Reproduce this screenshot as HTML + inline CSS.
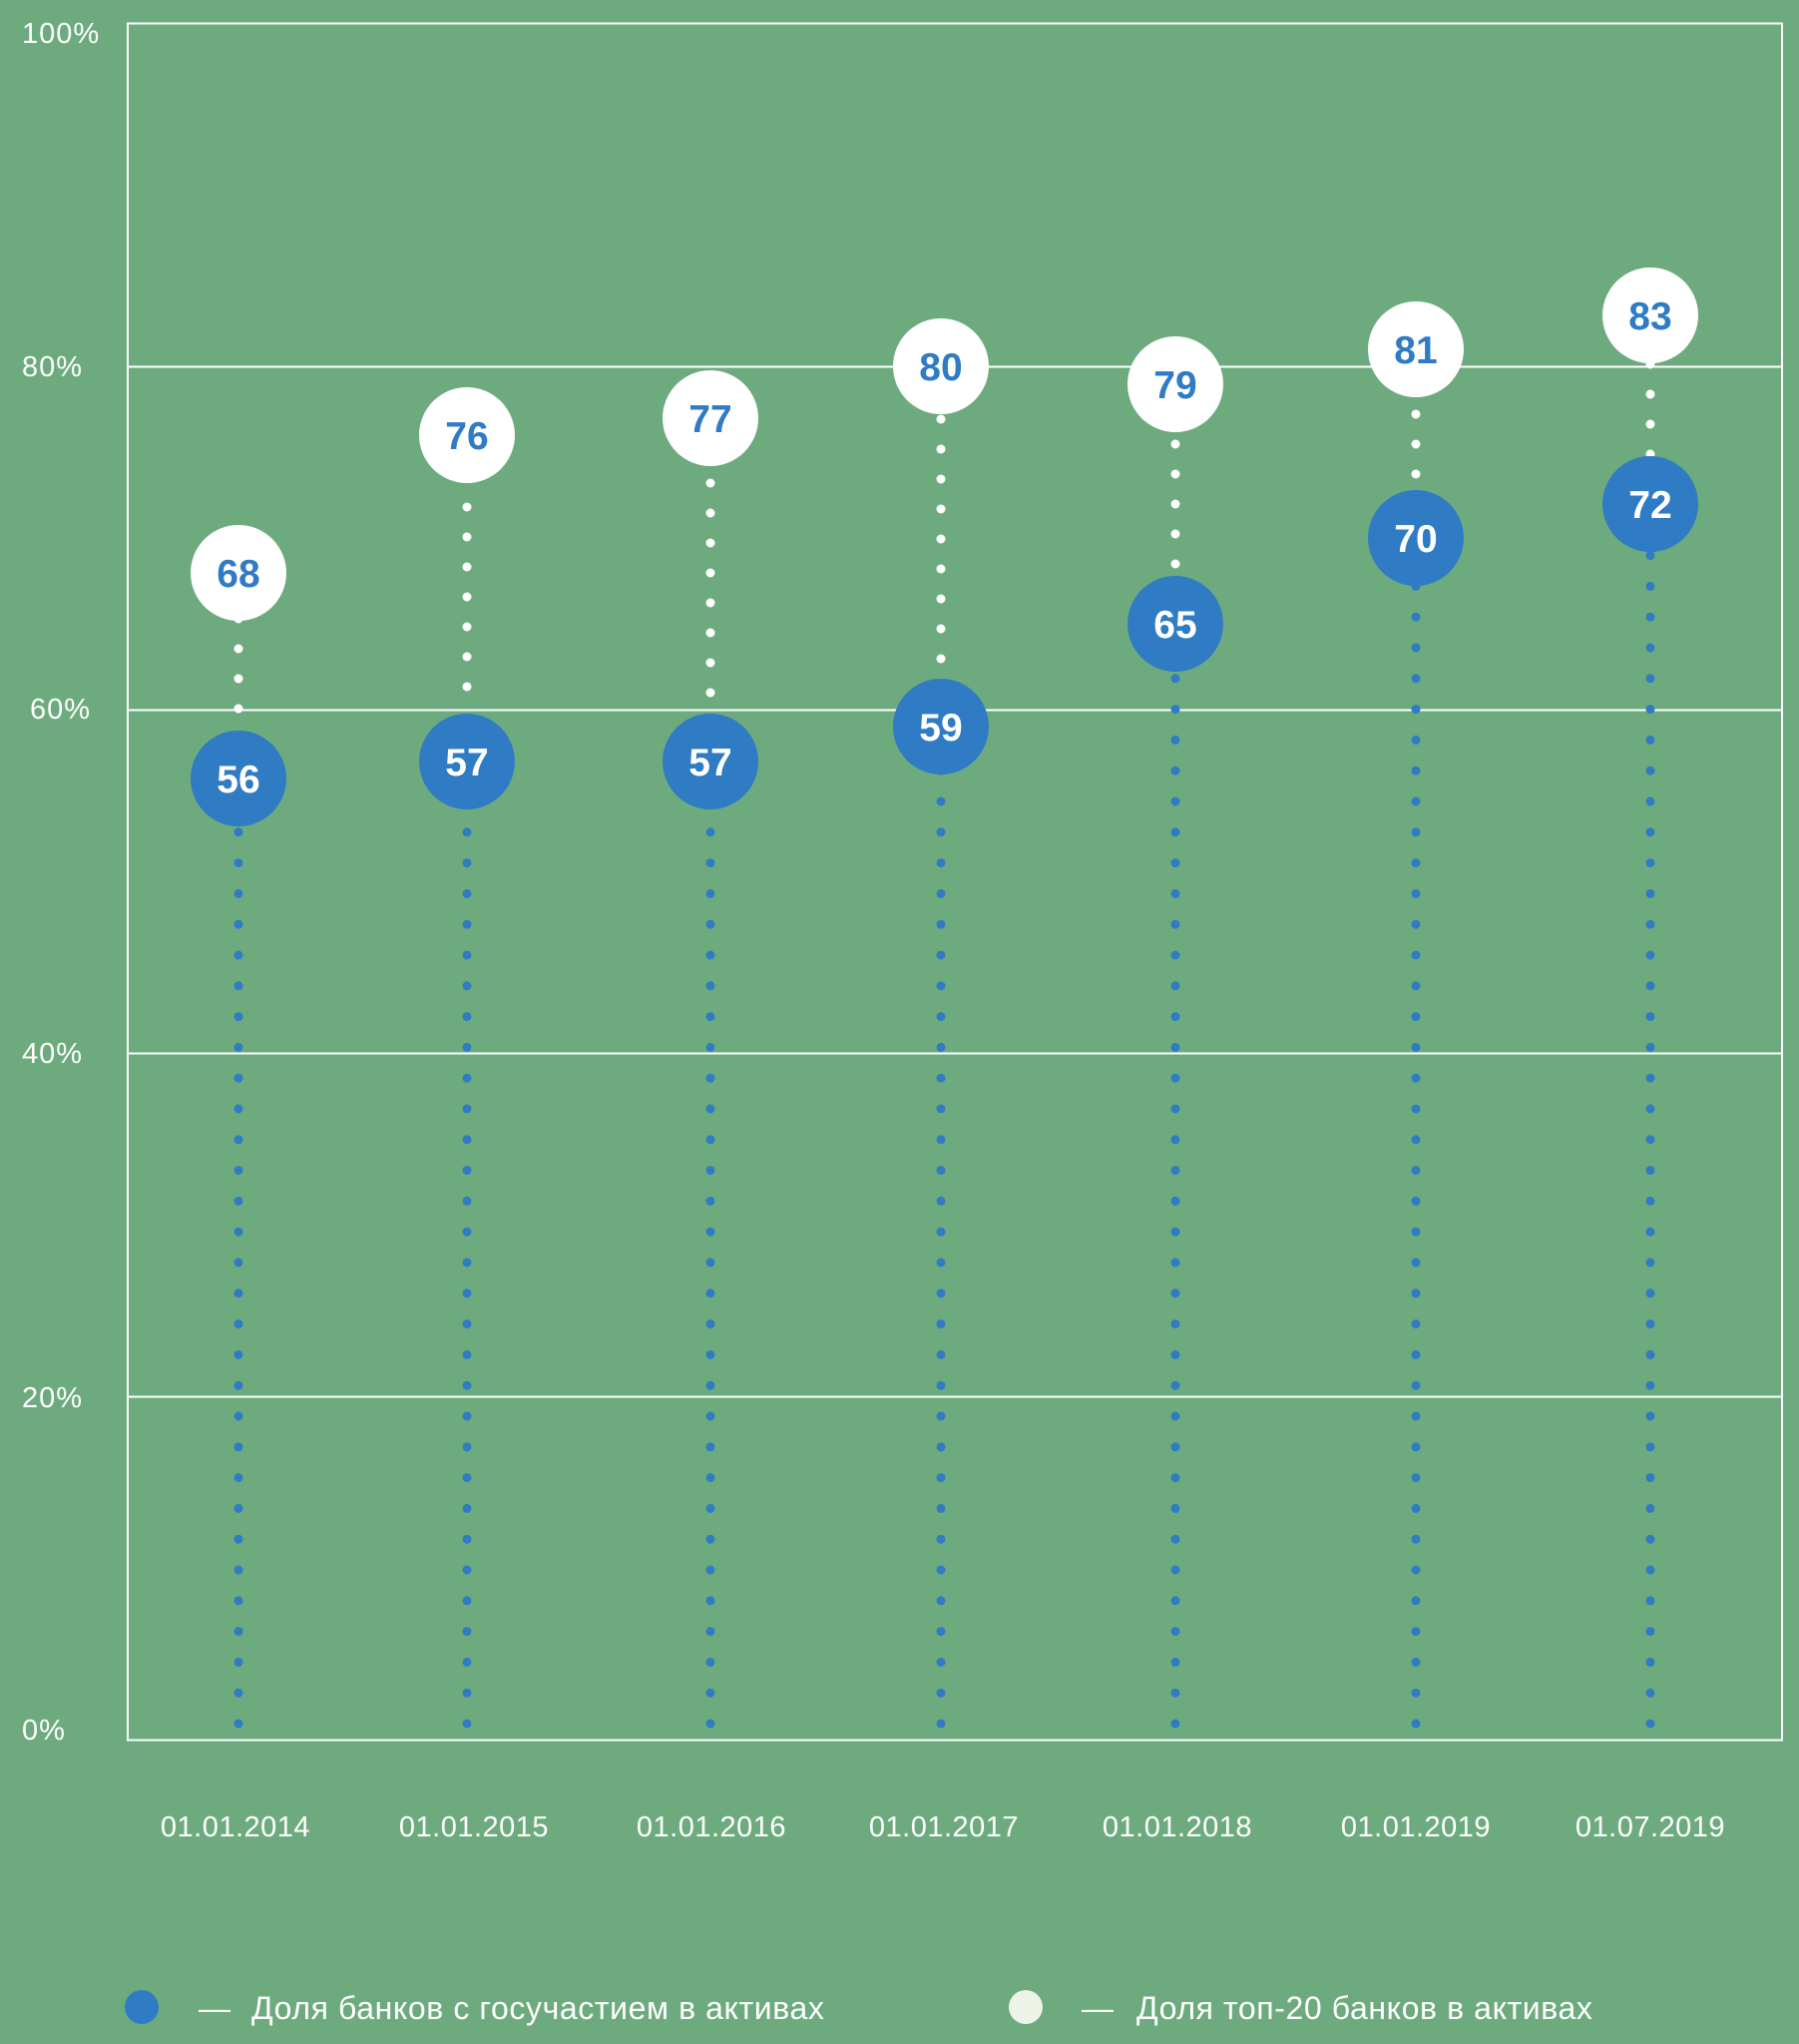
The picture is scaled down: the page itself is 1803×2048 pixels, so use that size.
<!DOCTYPE html>
<html><head><meta charset="utf-8"><style>
html,body{margin:0;padding:0;background:#6dab7f;}
svg{display:block}
text{font-family:"Liberation Sans","DejaVu Sans",sans-serif;}
</style></head><body>
<svg width="1803" height="2048" viewBox="0 0 1803 2048" xmlns="http://www.w3.org/2000/svg">
<rect width="1803" height="2048" fill="#6dab7f"/>
<g stroke="#ffffff" stroke-width="2" fill="none">
<rect x="128" y="23.5" width="1658" height="1720"/>
<line x1="128" y1="367.5" x2="1786" y2="367.5"/>
<line x1="128" y1="711.5" x2="1786" y2="711.5"/>
<line x1="128" y1="1055.5" x2="1786" y2="1055.5"/>
<line x1="128" y1="1399.5" x2="1786" y2="1399.5"/>
</g>
<g fill="#ffffff" font-size="29" letter-spacing="1">
<text x="22" y="43">100%</text>
<text x="22" y="377">80%</text>
<text x="30" y="720">60%</text>
<text x="22" y="1065">40%</text>
<text x="22" y="1410">20%</text>
<text x="22" y="1743">0%</text>
</g>
<g fill="#ffffff" font-size="29" text-anchor="middle" letter-spacing="0.5">
<text x="236" y="1840">01.01.2014</text>
<text x="475" y="1840">01.01.2015</text>
<text x="713" y="1840">01.01.2016</text>
<text x="946" y="1840">01.01.2017</text>
<text x="1180" y="1840">01.01.2018</text>
<text x="1419" y="1840">01.01.2019</text>
<text x="1654" y="1840">01.07.2019</text>
</g>
<g stroke="#2f7bc4" stroke-width="9" stroke-linecap="round" stroke-dasharray="0 30.8">
<line x1="239" y1="1727" x2="239" y2="780"/>
<line x1="468" y1="1727" x2="468" y2="763"/>
<line x1="712" y1="1727" x2="712" y2="763"/>
<line x1="943" y1="1727" x2="943" y2="728"/>
<line x1="1178" y1="1727" x2="1178" y2="625"/>
<line x1="1419" y1="1727" x2="1419" y2="539"/>
<line x1="1654" y1="1727" x2="1654" y2="505"/>
</g>
<g stroke="#ffffff" stroke-width="9" stroke-linecap="round" stroke-dasharray="0 30">
<line x1="239" y1="710" x2="239" y2="574"/>
<line x1="468" y1="688" x2="468" y2="436"/>
<line x1="712" y1="694" x2="712" y2="419"/>
<line x1="943" y1="660" x2="943" y2="367"/>
<line x1="1178" y1="565" x2="1178" y2="385"/>
<line x1="1419" y1="475" x2="1419" y2="350"/>
<line x1="1654" y1="455" x2="1654" y2="316"/>
</g>
<g fill="#ffffff">
<circle cx="239" cy="574" r="48"/>
<circle cx="468" cy="436" r="48"/>
<circle cx="712" cy="419" r="48"/>
<circle cx="943" cy="367" r="48"/>
<circle cx="1178" cy="385" r="48"/>
<circle cx="1419" cy="350" r="48"/>
<circle cx="1654" cy="316" r="48"/>
</g>
<g fill="#2f7bc4" font-size="39" font-weight="bold" text-anchor="middle">
<text x="239" y="588">68</text>
<text x="468" y="450">76</text>
<text x="712" y="433">77</text>
<text x="943" y="381">80</text>
<text x="1178" y="399">79</text>
<text x="1419" y="364">81</text>
<text x="1654" y="330">83</text>
</g>
<g fill="#2f7bc4">
<circle cx="239" cy="780" r="48"/>
<circle cx="468" cy="763" r="48"/>
<circle cx="712" cy="763" r="48"/>
<circle cx="943" cy="728" r="48"/>
<circle cx="1178" cy="625" r="48"/>
<circle cx="1419" cy="539" r="48"/>
<circle cx="1654" cy="505" r="48"/>
</g>
<g fill="#ffffff" font-size="39" font-weight="bold" text-anchor="middle">
<text x="239" y="794">56</text>
<text x="468" y="777">57</text>
<text x="712" y="777">57</text>
<text x="943" y="742">59</text>
<text x="1178" y="639">65</text>
<text x="1419" y="553">70</text>
<text x="1654" y="519">72</text>
</g>
<circle cx="142" cy="2011" r="17" fill="#2f7bc4"/>
<text x="199" y="2023" fill="#ffffff" font-size="32">—</text>
<text x="252" y="2023" fill="#ffffff" font-size="32" letter-spacing="0.6">Доля банков с госучастием в активах</text>
<circle cx="1028" cy="2011" r="17" fill="#eef3e8"/>
<text x="1084" y="2023" fill="#ffffff" font-size="32">—</text>
<text x="1139" y="2023" fill="#ffffff" font-size="32" letter-spacing="0.6">Доля топ-20 банков в активах</text>
</svg>
</body></html>
